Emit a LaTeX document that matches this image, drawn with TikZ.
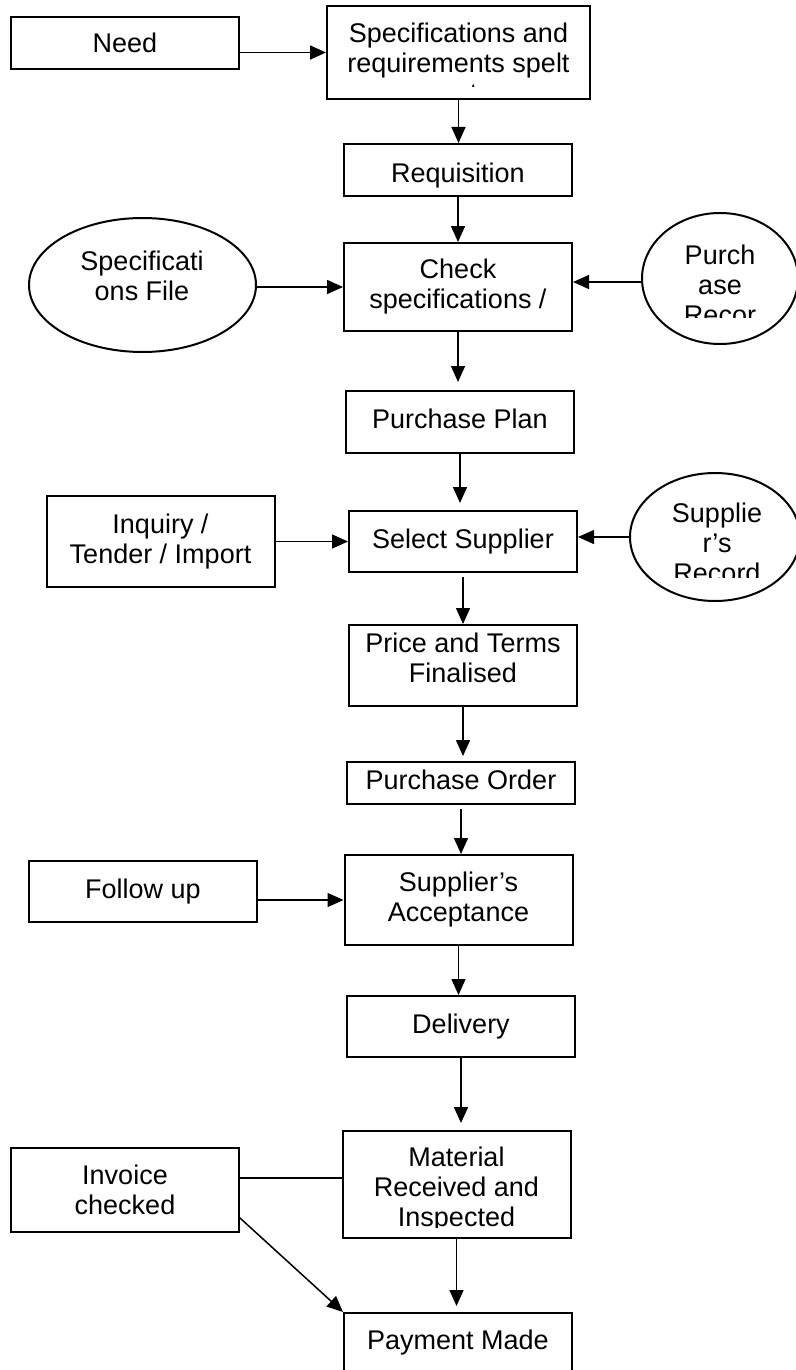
\documentclass[tikz,border=0pt]{standalone}
\usepackage{fontspec}
\setmainfont{Liberation Sans}
\usetikzlibrary{shapes.geometric,arrows.meta}

\tikzset{
  box/.style={rectangle, draw, line width=2pt, minimum width=228pt, inner sep=0pt,
    align=center, font=\fontsize{27}{30}\selectfont},
  blob/.style={ellipse, draw, line width=2pt, inner sep=0pt},
  txt/.style={inner sep=0pt, align=center, font=\fontsize{27}{30}\selectfont},
  arr/.style={line width=1.5pt, -{Triangle[length=16pt,width=14pt]}}
}

\begin{document}
\begin{tikzpicture}[x=1pt,y=-1pt]
    \useasboundingbox (0,0) rectangle (795,1370);

    % Main column
    \node[box, minimum width=263pt, minimum height=93pt] (spec) at (458.5,52.5) {};
    \node[box, minimum height=52pt, text height=30pt] (req) at (458,170) {Requisition};
    \node[box, minimum height=88pt] (check) at (458,287) {Check\\specifications /};
    \node[box, minimum height=62pt, text depth=6pt] (plan) at (460,422) {Purchase Plan};
    \node[box, minimum height=61pt] (select) at (463,541.5) {Select Supplier};
    \node[box, minimum height=81pt, text depth=16pt] (price) at (463,665.5) {Price and Terms\\Finalised};
    \node[box, minimum height=42pt, text depth=6pt] (order) at (461,783) {Purchase Order};
    \node[box, minimum height=90pt] (accept) at (458.5,900) {Supplier’s\\Acceptance};
    \node[box, minimum height=61pt] (delivery) at (461,1026.5) {Delivery};
    \node[box, minimum height=107pt] (material) at (456.5,1184.5) {};
    \node[box, minimum height=60pt] (payment) at (458,1343) {Payment Made};

    % Side boxes
    \node[box, minimum height=52pt] (need) at (125,43) {Need};
    \node[box, minimum height=91pt] (inquiry) at (160.5,541.5) {Inquiry /\\Tender / Import};
    \node[box, minimum height=61pt] (follow) at (143,891.5) {Follow up};
    \node[box, minimum height=84pt] (invoice) at (125,1190) {Invoice\\checked};

    % Records
    \node[blob, minimum width=227pt, minimum height=134pt] (specfile) at (142.5,285) {};
    \node[txt, anchor=north] (tspecfile) at (142,251) {Specificati\\ons File};
    \node[blob, minimum width=156pt, minimum height=131pt] (precord) at (720,278.5) {};
    \node[blob, minimum width=170pt, minimum height=128pt] (srecord) at (715,537) {};

    % Text cut off by its box
    \begin{scope}
        \clip (328,7) rectangle (589,87);
        \node[txt, anchor=north] (tspec) at (458.5,23) {Specifications and\\requirements spelt\\out};
    \end{scope}
    \begin{scope}
        \clip (643,214) rectangle (795,317);
        \node[txt, anchor=north] (tprecord) at (720,245) {Purch\\ase\\Recor\\d};
    \end{scope}
    \begin{scope}
        \clip (631,474) rectangle (795,577);
        \node[txt, anchor=north] (tsrecord) at (717,503) {Supplie\\r’s\\Record};
    \end{scope}
    \begin{scope}
        \clip (344,1132) rectangle (569,1227);
        \node[txt, anchor=north] (tmaterial) at (456.5,1147) {Material\\Received and\\Inspected};
    \end{scope}

    % Connectors
    \draw[arr] (need.east |- spec.west) -- (spec.west);
    \draw[arr] (spec.south) -- (spec.south |- req.north);
    \draw[arr] (req.south) -- (req.south |- check.north);
    \draw[arr] (specfile.east |- check.west) -- (check.west);
    \draw[arr] ([yshift=-3.5pt]precord.west) -- ([yshift=-3.5pt]precord.west -| check.east);
    \draw[arr, shorten >=8pt] (check.south) -- (check.south |- plan.north);
    \draw[arr, shorten >=7pt] (plan.south) -- (plan.south |- select.north);
    \draw[arr] (inquiry) -- (select);
    \draw[arr] (srecord.west) -- (srecord.west -| select.east);
    \draw[arr, shorten <=4pt] (select.south) -- (select.south |- price.north);
    \draw[arr, shorten >=5pt] (price.south) -- (price.south |- order.north);
    \draw[arr, shorten <=4pt] (order.south) -- (order.south |- accept.north);
    \draw[arr] (follow.east |- accept.west) -- (accept.west);
    \draw[arr] (accept.south) -- (accept.south |- delivery.north);
    \draw[arr, shorten >=7pt] (delivery.south) -- (delivery.south |- material.north);
    \draw[line width=1.5pt] ([yshift=12pt]invoice.east) -- ([yshift=12pt]invoice.east -| material.west);
    \draw[arr] ([yshift=-28pt]invoice.east) -- (payment.north west);
    \draw[arr, shorten >=6pt] (material.south) -- (material.south |- payment.north);
\end{tikzpicture}
\end{document}
